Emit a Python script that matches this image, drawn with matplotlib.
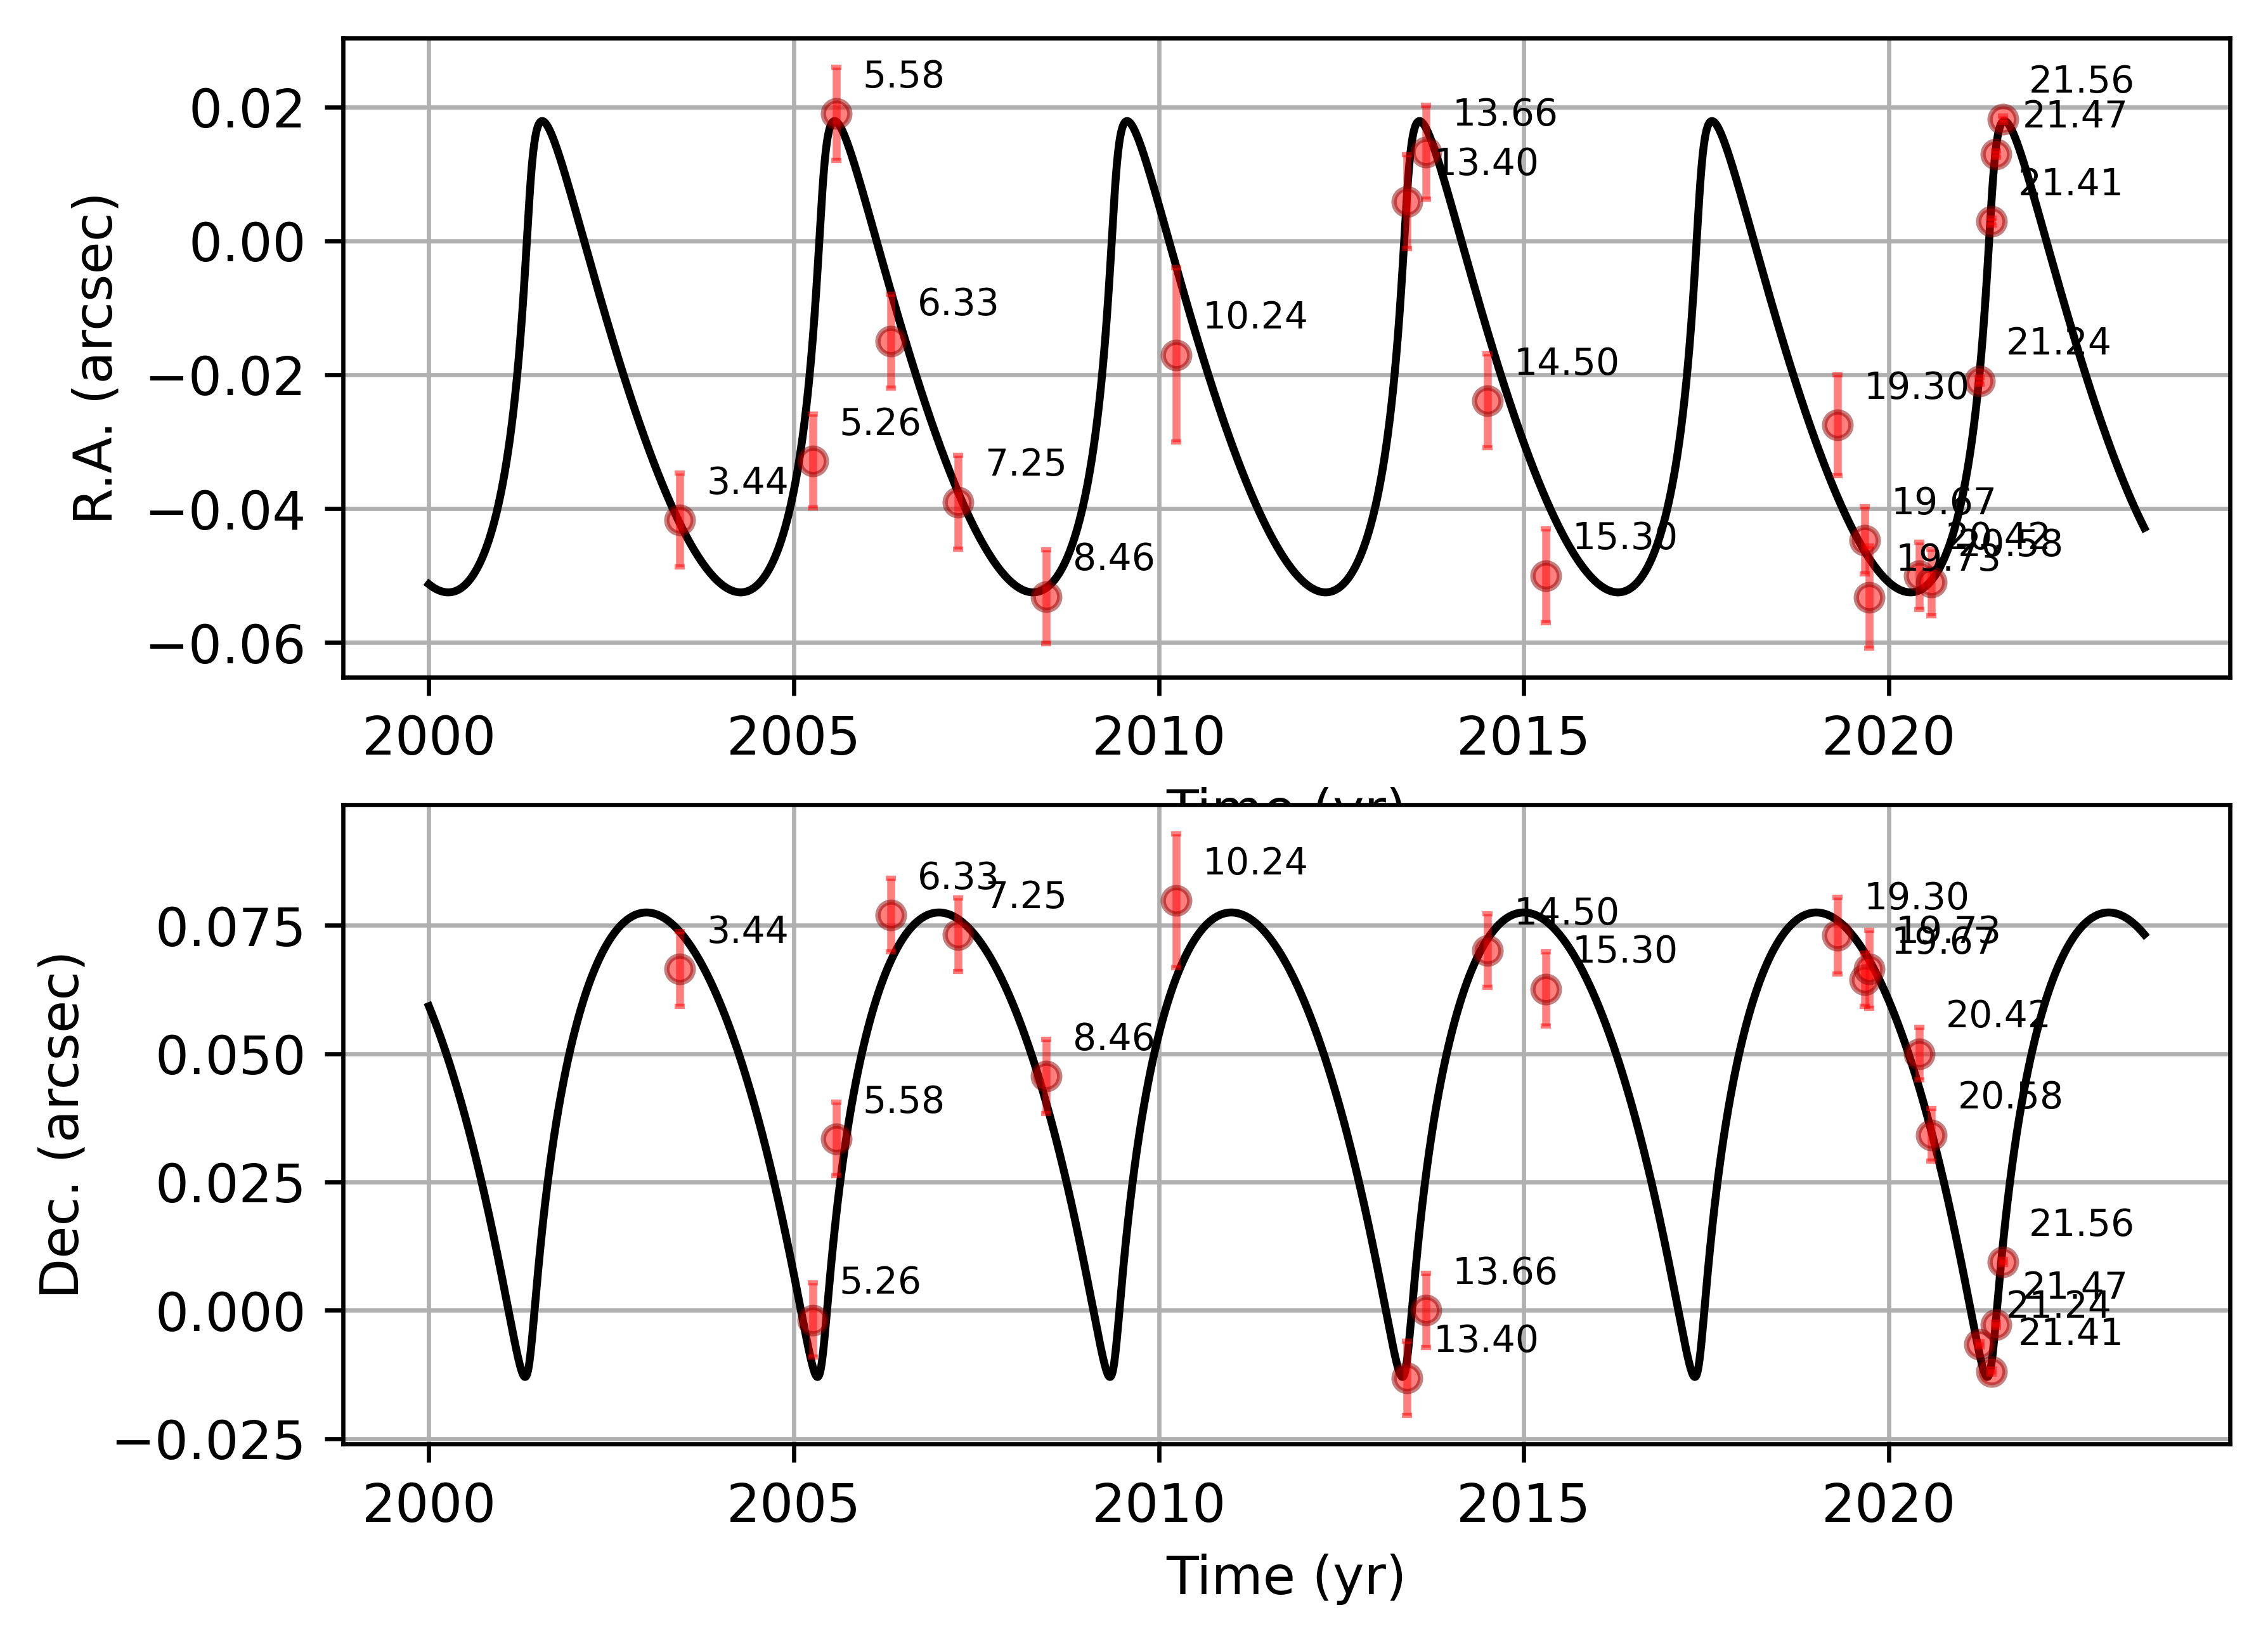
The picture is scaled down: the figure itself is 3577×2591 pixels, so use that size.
import numpy as np
from matplotlib import pyplot as plt

# epochs (yr - 2000) of the measurements
epoch = [3.44, 5.26, 5.58, 6.33, 7.25, 8.46, 10.24, 13.40, 13.66, 14.50,
         15.30, 19.30, 19.67, 19.73, 20.42, 20.58, 21.24, 21.41, 21.47, 21.56]
ra = [-0.0417, -0.0329, 0.0190, -0.0150, -0.0390, -0.0531, -0.0170, 0.0059, 0.0133, -0.0239,
      -0.0500, -0.0275, -0.0447, -0.0532, -0.0500, -0.0510, -0.0209, 0.0029, 0.0130, 0.0182]
dec = [0.0665, -0.0019, 0.0334, 0.0770, 0.0732, 0.0456, 0.0798, -0.0132, 0.0000, 0.0701,
       0.0626, 0.0730, 0.0644, 0.0665, 0.0500, 0.0342, -0.0066, -0.0119, -0.0028, 0.0094]
ra_err = [0.007, 0.007, 0.007, 0.007, 0.007, 0.007, 0.013, 0.007, 0.007, 0.007,
          0.007, 0.0075, 0.005, 0.0076, 0.005, 0.005, 0.0005, 0.0005, 0.0005, 0.0005]
dec_err = [0.0073, 0.0072, 0.0072, 0.0072, 0.0072, 0.0072, 0.013, 0.0072, 0.0072, 0.0072,
           0.0072, 0.0075, 0.0052, 0.0076, 0.0051, 0.0051, 0.0005, 0.0005, 0.0005, 0.0005]

# orbit model: period (yr), eccentricity, periastron epoch, offsets and Thiele-Innes constants
period = 4.0064
ecc = 0.757
t_peri = 2001.377
ra_const = [0.00058, 0.02360, 0.03997]
dec_const = [0.0002, -0.04235, 0.02437]
t_start, t_end = 2000.0, 2023.5


def ecc_anomaly(M, e):
    # solve Kepler's equation with Newton iterations
    M = np.mod(M + np.pi, 2 * np.pi) - np.pi
    E = M + 0.85 * e * np.sign(np.sin(M))
    for _ in range(40):
        E = E - (E - e * np.sin(E) - M) / (1 - e * np.cos(E))
    return E


t_model = np.linspace(t_start, t_end, 3000)
E = ecc_anomaly(2 * np.pi * (t_model - t_peri) / period, ecc)
X = np.cos(E) - ecc
Y = np.sqrt(1 - ecc ** 2) * np.sin(E)
ra_model = ra_const[0] + ra_const[1] * X + ra_const[2] * Y
dec_model = dec_const[0] + dec_const[1] * X + dec_const[2] * Y

t_obs = 2000 + np.array(epoch)
labels = ['%.2f' % x for x in epoch]

fig = plt.figure()
# R.A. panel
ax1 = fig.add_subplot(211)
ax1.plot(t_model, ra_model, 'k-')
ax1.errorbar(t_obs, ra, yerr=ra_err, fmt='o', color='r', alpha=0.5, ms=5, mec='darkred', capsize=1)
for lab, x, y in zip(labels, t_obs, ra):
    ax1.annotate(lab, (x, y), xytext=(5, 5), textcoords='offset points', fontsize=7)
ax1.set_xlabel('Time (yr)')
ax1.set_ylabel('R.A. (arcsec)')
ax1.grid()

# Dec. panel
ax2 = fig.add_subplot(212)
ax2.plot(t_model, dec_model, 'k-')
ax2.errorbar(t_obs, dec, yerr=dec_err, fmt='o', color='r', alpha=0.5, ms=5, mec='darkred', capsize=1)
for lab, x, y in zip(labels, t_obs, dec):
    ax2.annotate(lab, (x, y), xytext=(5, 5), textcoords='offset points', fontsize=7)
ax2.set_xlabel('Time (yr)')
ax2.set_ylabel('Dec. (arcsec)')
ax2.grid()

plt.savefig('out.png', dpi=600, bbox_inches='tight')
